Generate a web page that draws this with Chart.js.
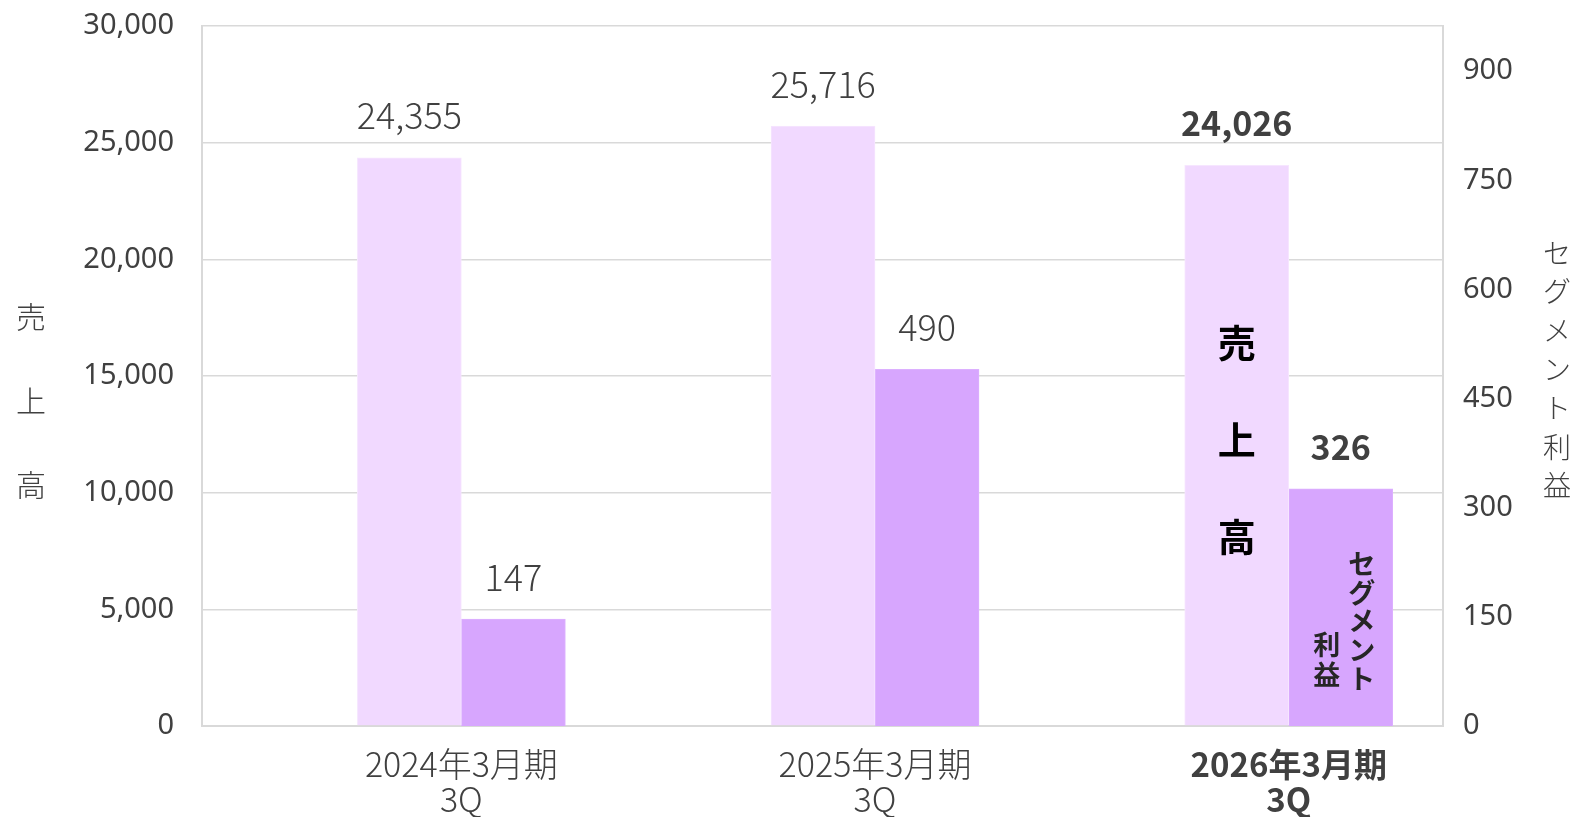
<!DOCTYPE html>
<html>
<head>
<meta charset="utf-8">
<script src="https://cdn.jsdelivr.net/npm/chart.js@4.4.1/dist/chart.umd.min.js"></script>
<style>
  html, body { margin: 0; padding: 0; background: #fff; }
  #wrap { width: 1578px; height: 817px; }
</style>
</head>
<body>
<div id="wrap"><canvas id="salesChart" width="1578" height="817"></canvas></div>
<script>
// データ
const categories = [["2024年3月期", "3Q"], ["2025年3月期", "3Q"], ["2026年3月期", "3Q"]];
const sales = [24355, 25716, 24026];
const segmentProfit = [147, 490, 326];
const salesTicks = [0, 5000, 10000, 15000, 20000, 25000, 30000];
const profitTicks = [0, 150, 300, 450, 600, 750, 900];
const leftTitle = ["売", "上", "高"];
const rightTitle = ["セ", "グ", "メ", "ン", "ト", "利", "益"];

const JP = '"Noto Sans CJK JP", "Noto Sans", sans-serif';
const TICK_FONT = '"Noto Sans", "Noto Sans CJK JP", sans-serif';
const GRID = "#d9d9d9";
const TEXT = "#404040";

const fmt = (v) => v.toLocaleString("en-US");

// 縦軸の余白はレイアウトの padding で決める
const fixPadding = (scale) => {
    scale.paddingTop = 0;
    scale.paddingBottom = 0;
};

document.addEventListener("DOMContentLoaded", function () {
    const canvas = document.getElementById("salesChart");
    const ctx = canvas.getContext("2d");

    const labelPlugin = {
        id: "customLabels",
        afterDatasetsDraw: (chart) => {
            const c = chart.ctx;
            c.save();
            c.textAlign = "center";
            c.textBaseline = "middle";
            const last = sales.length - 1;

            // 値ラベル
            chart.data.datasets.forEach((ds, di) => {
                const meta = chart.getDatasetMeta(di);
                meta.data.forEach((bar, i) => {
                    const bold = i === last;
                    c.font = (bold ? "bold 34px " : "300 36px ") + JP;
                    c.fillStyle = TEXT;
                    c.fillText(fmt(ds.data[i].y), bar.x, bar.y - 42);
                });
            });

            // 棒の中の縦書きラベル (最新期のみ)
            const salesBar = chart.getDatasetMeta(0).data[last];
            const profitBar = chart.getDatasetMeta(1).data[last];
            const base = chart.scales.y.getPixelForValue(0);

            c.font = "bold 38px " + JP;
            c.fillStyle = "#000";
            leftTitle.forEach((ch, k) => {
                c.fillText(ch, salesBar.x, base - 383 + k * 97);
            });

            c.font = "bold 27px " + JP;
            c.fillStyle = "#262626";
            ["セ", "グ", "メ", "ン", "ト"].forEach((ch, k) => {
                c.fillText(ch, profitBar.x + 21, base - 162 + k * 28.6);
            });
            ["利", "益"].forEach((ch, k) => {
                c.fillText(ch, profitBar.x - 14, base - 81 + k * 30);
            });

            // 軸タイトル (縦書き)
            c.font = "300 30px " + JP;
            c.fillStyle = TEXT;
            leftTitle.forEach((ch, k) => {
                c.fillText(ch, 31, 317 + k * 84);
            });
            c.font = "300 28px " + JP;
            rightTitle.forEach((ch, k) => {
                c.fillText(ch, 1557, 253 + k * 38.8);
            });
            c.restore();
        },
    };

    new Chart(ctx, {
        type: "bar",
        data: {
            datasets: [
                {
                    label: "売上高",
                    data: sales.map((v, i) => ({ x: i, y: v })),
                    backgroundColor: "#f1d9ff",
                    borderColor: "#f6e6ff",
                    borderWidth: 1,
                    yAxisID: "y",
                    barThickness: 104,
                },
                {
                    label: "セグメント利益",
                    data: segmentProfit.map((v, i) => ({ x: i, y: v })),
                    backgroundColor: "#d7a6fe",
                    borderColor: "#dcb0ff",
                    borderWidth: 1,
                    yAxisID: "y1",
                    barThickness: 104,
                },
            ],
        },
        options: {
            responsive: false,
            animation: false,
            layout: { padding: { top: 26, left: 0, right: 0, bottom: 0 } },
            plugins: {
                legend: { display: false },
                tooltip: { enabled: false },
            },
            scales: {
                x: {
                    type: "linear",
                    offset: false,
                    min: -0.627,
                    max: 2.373,
                    afterBuildTicks: (scale) => {
                        scale.ticks = categories.map((_, i) => ({ value: i }));
                    },
                    afterFit: (scale) => { scale.height = 91; },
                    grid: { display: false, drawTicks: false },
                    border: { display: true, color: GRID, width: 2 },
                    ticks: {
                        padding: 21,
                        autoSkip: false,
                        maxRotation: 0,
                        minRotation: 0,
                        color: TEXT,
                        callback: (v) => categories[v],
                        font: (c) => ({
                            family: JP,
                            size: c.index === categories.length - 1 ? 33 : 34,
                            weight: c.index === categories.length - 1 ? "bold" : "300",
                            lineHeight: "35px",
                        }),
                    },
                },
                y: {
                    position: "left",
                    min: 0,
                    max: 30000,
                    afterBuildTicks: (scale) => {
                        scale.ticks = salesTicks.map((v) => ({ value: v }));
                    },
                    afterFit: (scale) => {
                        scale.width = 202;
                        fixPadding(scale);
                    },
                    grid: { color: GRID, lineWidth: 1.5, drawTicks: false },
                    border: { display: true, color: GRID, width: 2 },
                    ticks: {
                        padding: 28,
                        color: TEXT,
                        font: { family: TICK_FONT, size: 29 },
                        callback: (v) => fmt(v),
                    },
                },
                y1: {
                    position: "right",
                    min: 0,
                    max: 962,
                    afterBuildTicks: (scale) => {
                        scale.ticks = profitTicks.map((v) => ({ value: v }));
                    },
                    afterFit: (scale) => {
                        scale.width = 135;
                        fixPadding(scale);
                    },
                    grid: { display: false, drawTicks: false },
                    border: { display: true, color: GRID, width: 2 },
                    ticks: {
                        padding: 20,
                        color: TEXT,
                        font: { family: TICK_FONT, size: 29 },
                        callback: (v) => fmt(v),
                    },
                },
            },
        },
        plugins: [labelPlugin],
    });
});
</script>
</body>
</html>
